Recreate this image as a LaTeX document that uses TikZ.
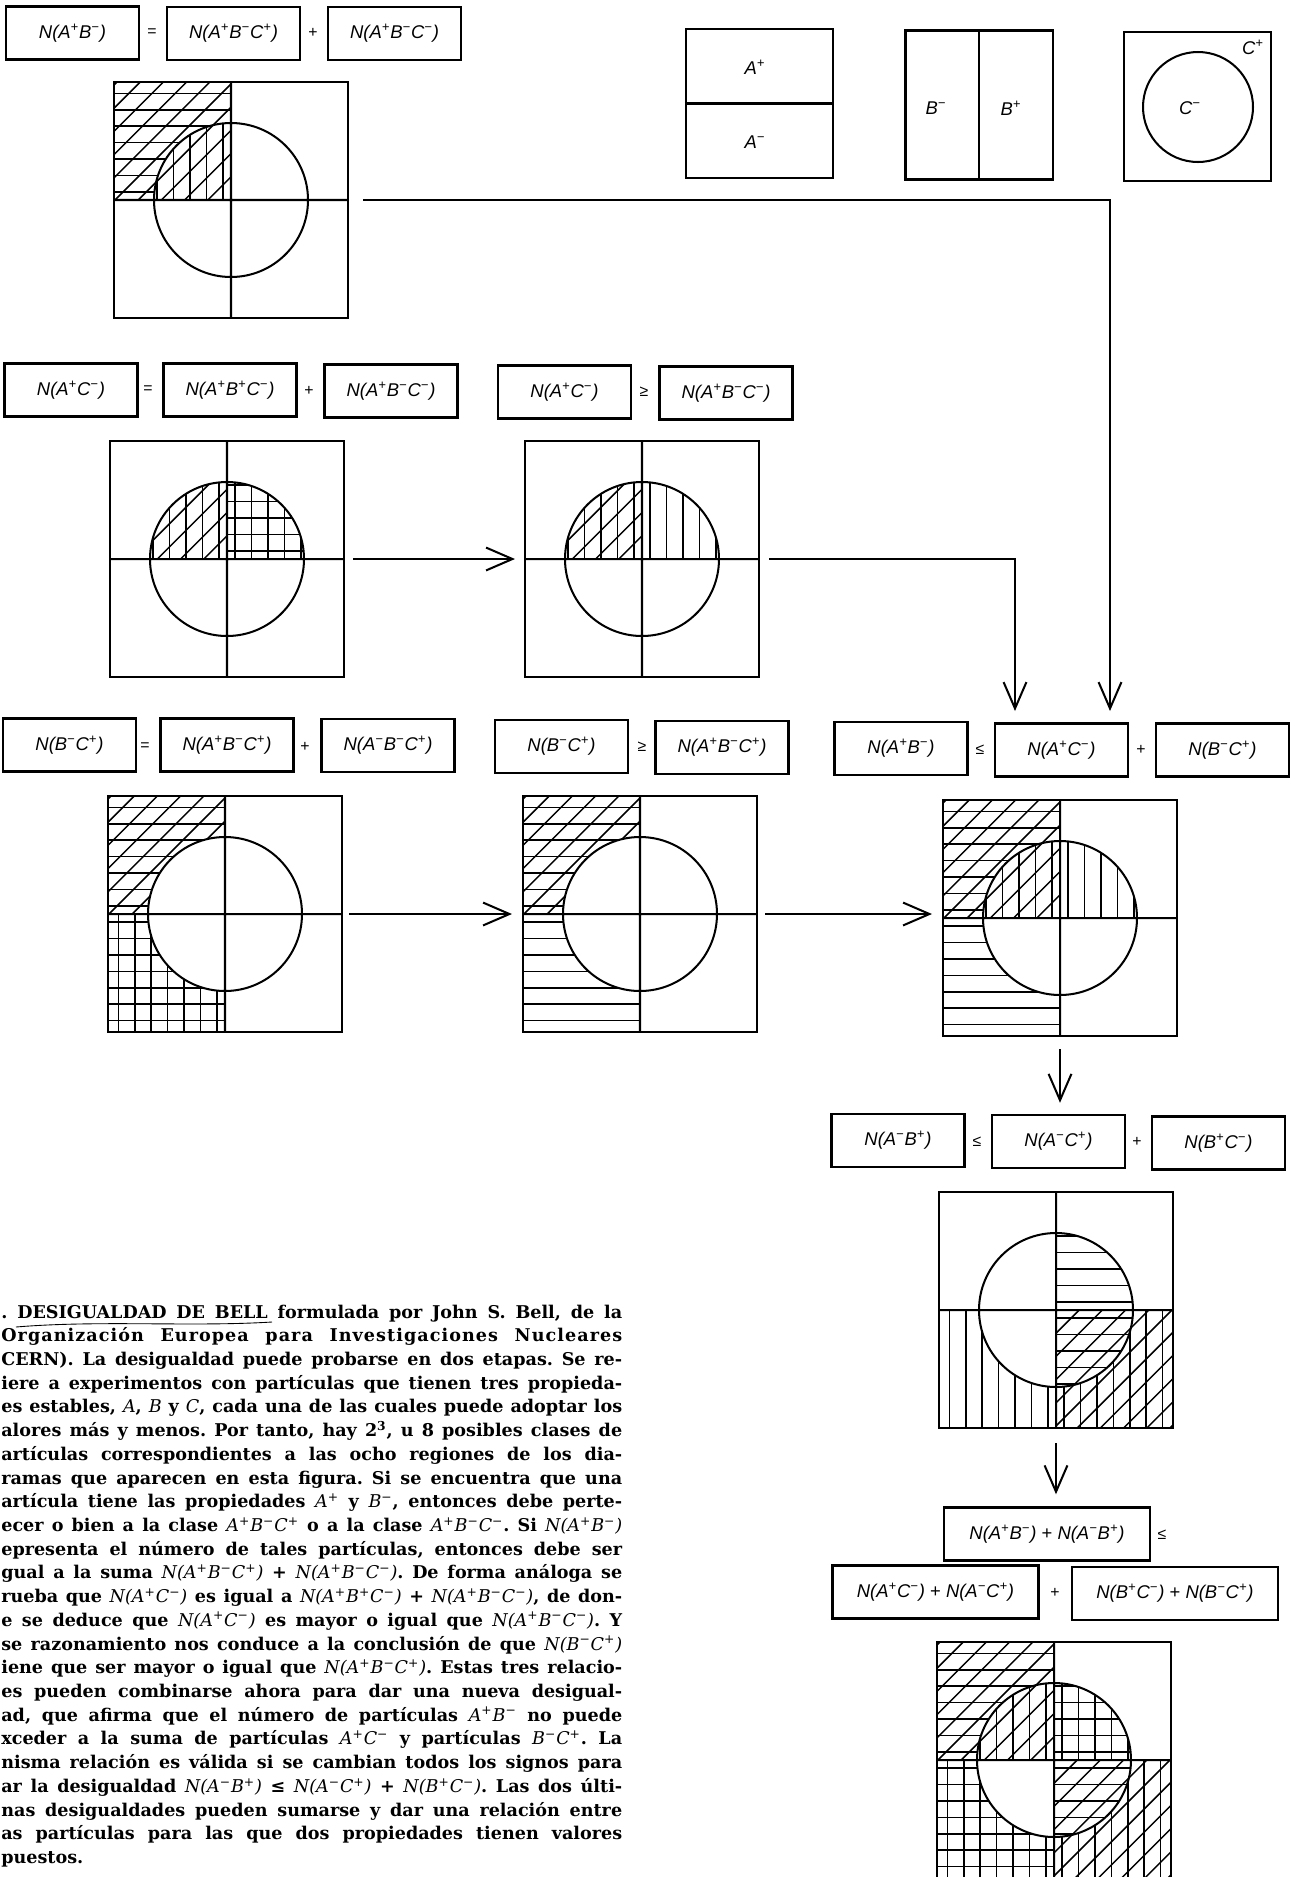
\documentclass[tikz,border=0pt]{standalone}
\usepackage{fontspec}
\usepackage{graphicx}
\setmainfont{DejaVu Serif}
\setsansfont{Liberation Sans}
\usetikzlibrary{arrows.meta}

\newcommand\sPl{\textsuperscript{+}}
\newcommand\sMi{\textsuperscript{−}}
\newcommand\ci[1]{{\mdseries\itshape #1}}
\newcommand\lblfont{\sffamily\itshape\fontsize{10.5}{12}\selectfont}
\newcommand\sgnfont{\sffamily\fontsize{9}{11}\selectfont}

% caption lines, justified to one width
\newlength\capw
\setlength\capw{12.42cm}
\newsavebox\capbox
\newcommand\capline[1]{\sbox\capbox{#1}%
  \ifdim\wd\capbox>\capw
    \hbox to\capw{\resizebox{\capw}{\ht\capbox}{\usebox\capbox}}%
  \else
    \hbox to\capw{#1}%
  \fi}

% regions of one diagram (origin at the cross)
\newcommand\inAp{\clip (-117,-118) rectangle (117,0);}
\newcommand\inAm{\clip (-117,0) rectangle (117,118);}
\newcommand\inBm{\clip (-117,-118) rectangle (0,118);}
\newcommand\inBp{\clip (0,-118) rectangle (117,118);}
\newcommand\inCm{\clip (0,0) circle (77);}
\newcommand\inCp{\clip (-117,-118) rectangle (117,118) (0,0) circle (77);}
% line families
\newcommand\famH{\foreach \hk in {-8,...,7} \draw[hl] (-130,{8.2+16.4*\hk}) -- (130,{8.2+16.4*\hk});}
\newcommand\famV{\foreach \hk in {-8,...,7} \draw[hl] ({8.2+16.4*\hk},-130) -- ({8.2+16.4*\hk},130);}
\newcommand\famD{\foreach \hk in {-11,...,11} \draw[hl] ({23.2*\hk-130},130) -- ({23.2*\hk+130},-130);}
\newcommand\hatchin[3]{\begin{scope}[even odd rule]#1#2#3\end{scope}}
\newcommand\venn[4]{%
  \begin{scope}[shift={(#2,#3)}]
    #4
    \draw[ln] (0,-118) -- (0,118) (-117,0) -- (117,0) (0,0) circle (77);
  \end{scope}
  \node[dframe] (#1) at (#2,#3) {};}

\begin{document}
\begin{tikzpicture}[x=0.02cm, y=-0.02cm,
  lbox/.style={draw, line width=1.4pt, minimum width=133*0.02cm, minimum height=53*0.02cm, inner sep=0pt, font=\lblfont},
  wbox/.style={lbox, minimum width=206*0.02cm},
  sgn/.style={inner sep=0pt, font=\sgnfont},
  tag/.style={inner sep=0pt, font=\lblfont},
  dframe/.style={draw, line width=1.15pt, minimum width=234*0.02cm, minimum height=236*0.02cm, inner sep=0pt},
  pbox/.style={draw, line width=1.15pt, minimum width=147*0.02cm, minimum height=149*0.02cm, inner sep=0pt},
  ln/.style={line width=1.15pt},
  hl/.style={line width=0.85pt},
  arr/.style={line width=1.15pt, -{Straight Barb[length=15pt,width=13pt]}},
  captxt/.style={inner sep=0pt, font=\bfseries\frenchspacing\fontsize{10}{13.5}\selectfont}]
\useasboundingbox (0,0) rectangle (1292,1877);
\clip (0,0) rectangle (1292,1877);

% row 1
\node[lbox] (r1a) at (72.5,33) {N(A\sPl B\sMi)};
\node[sgn] (r1e) at (152,33) {=};
\node[lbox] (r1b) at (233.5,33.5) {N(A\sPl B\sMi C\sPl)};
\node[sgn] (r1p) at (313,33) {+};
\node[lbox] (r1c) at (394.5,33.5) {N(A\sPl B\sMi C\sMi)};
\venn{d1}{231}{200}{%
  \hatchin\inAp\inBm\famD
  \hatchin{\inAp\inBm}\inCp\famH
  \hatchin{\inAp\inBm}\inCm\famV}

% the three properties
\node[pbox] (pA) at (759.5,103.5) {};
\draw[ln] (pA.west) -- (pA.east);
\node[tag] (tAp) at (755,67) {A\sPl};
\node[tag] (tAm) at (755,142) {A\sMi};
\node[pbox] (pB) at (979,105) {};
\draw[ln] (pB.north) -- (pB.south);
\node[tag] (tBm) at (936,108) {B\sMi};
\node[tag] (tBp) at (1011,108) {B\sPl};
\node[pbox] (pC) at (1197.5,106.5) {};
\draw[ln] (1198,107) circle (55);
\node[tag] (tCm) at (1190,108) {C\sMi};
\node[tag] (tCp) at (1253,47) {C\sPl};

% row 2
\node[lbox] (r2a) at (71,390) {N(A\sPl C\sMi)};
\node[sgn] (r2e) at (148,390) {=};
\node[lbox] (r2b) at (230,390) {N(A\sPl B\sPl C\sMi)};
\node[sgn] (r2p) at (309,391) {+};
\node[lbox] (r2c) at (391,391) {N(A\sPl B\sMi C\sMi)};
\node[lbox] (r2d) at (564.5,392) {N(A\sPl C\sMi)};
\node[sgn] (r2g) at (644,392) {≥};
\node[lbox] (r2f) at (726,393) {N(A\sPl B\sMi C\sMi)};
\venn{d2a}{227}{559}{%
  \hatchin\inAp\inCm\famV
  \hatchin{\inAp\inBm}\inCm\famD
  \hatchin{\inAp\inBp}\inCm\famH}
\venn{d2b}{642}{559}{%
  \hatchin\inAp\inCm\famV
  \hatchin{\inAp\inBm}\inCm\famD}

% row 3
\node[lbox] (r3a) at (69.5,745) {N(B\sMi C\sPl)};
\node[sgn] (r3e) at (145,747) {=};
\node[lbox] (r3b) at (227,745) {N(A\sPl B\sMi C\sPl)};
\node[sgn] (r3p) at (305,747) {+};
\node[lbox] (r3c) at (388,745.5) {N(A\sMi B\sMi C\sPl)};
\node[lbox] (r3d) at (561.5,746.5) {N(B\sMi C\sPl)};
\node[sgn] (r3g) at (642,747) {≥};
\node[lbox] (r3f) at (722,747.5) {N(A\sPl B\sMi C\sPl)};
\node[lbox] (r3h) at (901,748.5) {N(A\sPl B\sMi)};
\node[sgn] (r3l) at (980,750) {≤};
\node[lbox] (r3i) at (1061.5,750) {N(A\sPl C\sMi)};
\node[sgn] (r3q) at (1141,750) {+};
\node[lbox] (r3j) at (1222.5,750) {N(B\sMi C\sPl)};
\venn{d3a}{225}{914}{%
  \hatchin\inBm\inCp\famH
  \hatchin{\inAp\inBm}\inCp\famD
  \hatchin{\inAm\inBm}\inCp\famV}
\venn{d3b}{640}{914}{%
  \hatchin\inBm\inCp\famH
  \hatchin{\inAp\inBm}\inCp\famD}
\venn{d3c}{1060}{918}{%
  \hatchin\inAp\inBm\famD
  \hatchin\inAp\inCm\famV
  \hatchin\inBm\inCp\famH}

% row 4
\node[lbox] (r4a) at (898,1140.5) {N(A\sMi B\sPl)};
\node[sgn] (r4l) at (977,1142) {≤};
\node[lbox] (r4b) at (1058.5,1141.5) {N(A\sMi C\sPl)};
\node[sgn] (r4p) at (1137,1142) {+};
\node[lbox] (r4c) at (1218.5,1143) {N(B\sPl C\sMi)};
\venn{d4}{1056}{1310}{%
  \hatchin\inAm\inBp\famD
  \hatchin\inAm\inCp\famV
  \hatchin\inBp\inCm\famH}

% row 5
\node[wbox] (r5a) at (1047,1534) {N(A\sPl B\sMi) {\upshape +} N(A\sMi B\sPl)};
\node[sgn] (r5l) at (1162,1535) {≤};
\node[wbox] (r5b) at (935.5,1592) {N(A\sPl C\sMi) {\upshape +} N(A\sMi C\sPl)};
\node[sgn] (r5p) at (1055,1593) {+};
\node[wbox] (r5c) at (1175,1593.5) {N(B\sPl C\sMi) {\upshape +} N(B\sMi C\sPl)};
\venn{d5}{1054}{1760}{%
  \hatchin\inAp\inBm\famD
  \hatchin\inAm\inBp\famD
  \hatchin\inAp\inCm\famV
  \hatchin\inAm\inCp\famV
  \hatchin\inBp\inCm\famH
  \hatchin\inBm\inCp\famH}

% arrows
\coordinate (t1) at (1110,711);
\coordinate (t2) at (1015,711);
\draw[arr, shorten <=0.28cm] (d1.east) -| (t1);
\draw[arr, shorten <=0.16cm, shorten >=0.18cm] (d2a.east) -- (d2b.west);
\draw[arr, shorten <=0.18cm] (d2b.east) -| (t2);
\draw[arr, shorten <=0.12cm, shorten >=0.2cm] (d3a.east) -- (d3b.west);
\draw[arr, shorten <=0.14cm, shorten >=0.2cm] (d3b.east) -- (d3b.east -| d3c.west);
\draw[arr, shorten <=0.24cm, shorten >=0.22cm] (d3c.south) -- (d3c.south |- r4b.north);
\draw[arr, shorten <=0.28cm, shorten >=0.24cm] (d4.south) -- (d4.south |- r5a.north);

% caption (left margin cut in the original)
\node[captxt, anchor=base west] (caption) at (1,1318) {\vtop{\baselineskip=13.5pt\lineskiplimit=-20pt\lineskip=0pt
\capline{. DESIGUALDAD DE BELL formulada por John S. Bell, de la}
\capline{{\addfontfeature{LetterSpace=6}Organización Europea para Investigaciones Nucleares}}
\capline{CERN). La desigualdad puede probarse en dos etapas. Se re-}
\capline{iere a experimentos con partículas que tienen tres propieda-}
\capline{es estables, \ci{A}, \ci{B} y \ci{C}, cada una de las cuales puede adoptar los}
\capline{alores más y menos. Por tanto, hay 2\textsuperscript{3}, u 8 posibles clases de}
\capline{artículas correspondientes a las ocho regiones de los dia-}
\capline{ramas que aparecen en esta figura. Si se encuentra que una}
\capline{artícula tiene las propiedades \ci{A\sPl} y \ci{B\sMi}, entonces debe perte-}
\capline{ecer o bien a la clase \ci{A\sPl B\sMi C\sPl} o a la clase \ci{A\sPl B\sMi C\sMi}. Si \ci{N(A\sPl B\sMi)}}
\capline{epresenta el número de tales partículas, entonces debe ser}
\capline{gual a la suma \ci{N(A\sPl B\sMi C\sPl)} + \ci{N(A\sPl B\sMi C\sMi)}. De forma análoga se}
\capline{rueba que \ci{N(A\sPl C\sMi)} es igual a \ci{N(A\sPl B\sPl C\sMi)} + \ci{N(A\sPl B\sMi C\sMi)}, de don-}
\capline{e se deduce que \ci{N(A\sPl C\sMi)} es mayor o igual que \ci{N(A\sPl B\sMi C\sMi)}. Y}
\capline{se razonamiento nos conduce a la conclusión de que \ci{N(B\sMi C\sPl)}}
\capline{iene que ser mayor o igual que \ci{N(A\sPl B\sMi C\sPl)}. Estas tres relacio-}
\capline{es pueden combinarse ahora para dar una nueva desigual-}
\capline{ad, que afirma que el número de partículas \ci{A\sPl B\sMi} no puede}
\capline{xceder a la suma de partículas \ci{A\sPl C\sMi} y partículas \ci{B\sMi C\sPl}. La}
\capline{nisma relación es válida si se cambian todos los signos para}
\capline{ar la desigualdad \ci{N(A\sMi B\sPl)} ≤ \ci{N(A\sMi C\sPl)} + \ci{N(B\sPl C\sMi)}. Las dos últi-}
\capline{nas desigualdades pueden sumarse y dar una relación entre}
\capline{as partículas para las que dos propiedades tienen valores}
\hbox to\capw{puestos.\hfil}}};
\draw[line width=0.5pt] (16,1327) .. controls (100,1320) and (190,1327) .. (272,1322);
\end{tikzpicture}
\end{document}
